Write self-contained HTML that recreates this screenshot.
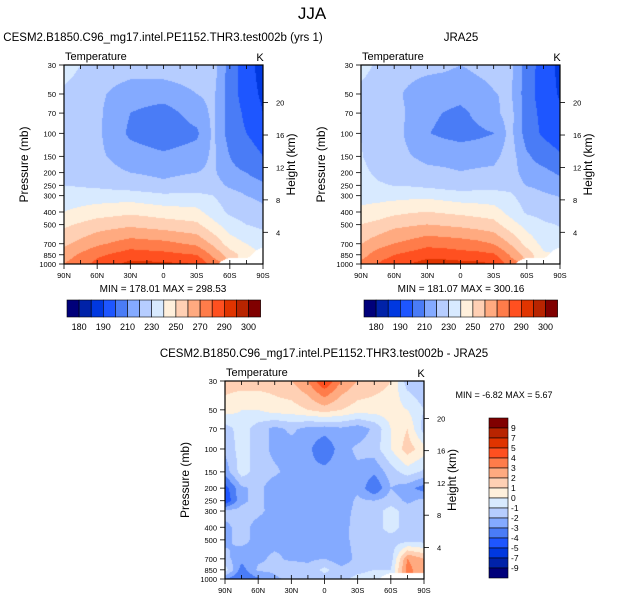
<!DOCTYPE html>
<html><head><meta charset="utf-8"><style>
body{margin:0;width:625px;height:602px;background:#fff;overflow:hidden;font-family:"Liberation Sans",sans-serif;}
#wrap{position:relative;width:625px;height:602px;}
canvas{position:absolute;}
svg{position:absolute;left:0;top:0;}
</style></head><body>
<div id="wrap">
<canvas id="c1" width="199" height="199" style="left:64px;top:65px"></canvas>
<canvas id="c2" width="199" height="199" style="left:361px;top:65px"></canvas>
<canvas id="c3" width="199" height="198" style="left:225px;top:381px"></canvas>
<svg id="s" width="625" height="602"></svg>
</div>
<script>
// ---------- data ----------
const pLevels=[30,50,70,100,150,200,250,300,400,500,700,850,1000];
const modelLats=[90,60,30,0,-30,-45,-60,-75,-90];
const modelT=[
[235,225,225,225,225,225,205,195,185],
[228,222,215,215,220,222,205,195,188],
[228,222,210,205,215,222,205,198,190],
[228,222,208,203,208,222,205,200,195],
[228,222,215,212,215,222,210,205,200],
[228,224,220,218,220,222,212,210,205],
[230,228,225,222,225,225,218,215,212],
[235,235,235,232,232,230,225,220,218],
[240,245,248,245,243,235,228,225,222],
[248,255,258,255,252,243,235,230,228],
[258,268,275,273,268,258,245,240,235],
[265,278,285,283,280,268,255,245,null],
[270,283,293,292,290,275,null,null,null]];
const diffLats=[90,75,60,45,30,15,0,-15,-30,-45,-60,-75,-90];
const diffT=[
[1.5,1.5,1.5,1.5,2,3,5,3,2,1.5,1,-1.5,-2],
[0.5,0,0,0.5,0.5,1,1.5,1,0.5,0.5,0.5,0,-1],
[-1.5,-0.5,-1.5,-2.3,-1.8,-2.3,-2.5,-2.2,-2.6,-1.8,0,1,-1.5],
[-1.8,-0.5,-1.5,-2.3,-2.4,-2.7,-4,-2.4,-1.8,-1.5,0,1.5,0.5],
[-2.6,-0.5,-1.5,-1.8,-2.4,-2.7,-2.6,-2.4,-2.2,-2.8,-1.5,-0.5,-1.2],
[-4.5,-2.2,-1.7,-2.6,-2.6,-3,-2.6,-2.6,-2.2,-4,-2,-2.6,-3.5],
[-5,-2.2,-1.7,-2.6,-2.6,-2.6,-2.6,-2.6,-1.8,-2,-1.5,-2.2,-1.7],
[-1.7,-1.7,-1.8,-2.3,-2.6,-2.6,-2.6,-2.3,-1.8,-1.5,-0.5,-1.5,-1.5],
[-2.2,-1.7,-2.3,-2.6,-2.2,-2.4,-2.6,-2.3,-1.7,-1.5,-0.5,-1.5,-1.5],
[-2.2,-1.7,-2.3,-2.3,-2.2,-2.4,-2.6,-2.3,-1.7,-1.5,-1.5,-1.5,-1.5],
[-1.7,-2.6,-2.2,-1.8,-2.2,-2.2,-2,-2.6,-1.7,-1.5,-1.5,3,2],
[-0.5,-3.5,-1.8,-1.8,-1.2,-1.7,-0.7,-1.7,-1.5,-1,-1,3.5,2],
[-3,-4,-3.2,-2.2,-1.7,-2,-1.5,-1.5,-0.5,0,null,null,null]];
const tLevels=[180,185,190,200,210,220,230,240,250,260,270,280,290,295,300];
const tLabels=["180","190","210","230","250","270","290","300"];
const dLevels=[-9,-7,-5,-4,-3,-2,-1,0,1,2,3,4,5,7,9];
const dLabels=["9","7","5","4","3","2","1","0","-1","-2","-3","-4","-5","-7","-9"];
const colors=["#00007a","#0022a8","#0038e0","#1e56ff","#4a7cf6","#84aaff","#b6cdff","#d8eaff","#fff0dc","#ffd0b4","#ffaa80","#ff7c4a","#ff5020","#e03400","#b82400","#800000"];
const pTicks=[30,50,70,100,150,200,250,300,400,500,700,850,1000];
const hKm=[4,8,12,16,20];
const latTicks=[90,60,30,0,-30,-60,-90];
const latLabels=["90N","60N","30N","0","30S","60S","90S"];

// ---------- helpers ----------
const L0=Math.log(30),L1=Math.log(1000);
function yOfP(p,h){return (Math.log(p)-L0)/(L1-L0)*h;}
function xOfLat(lat,w){return (90-lat)/180*w;}
function interp(lats,grid,lat,p){
  const lp=Math.log(p);
  let i=0;while(i<pLevels.length-2&&Math.log(pLevels[i+1])<lp)i++;
  let j=0;while(j<lats.length-2&&lats[j+1]>lat)j++;
  const ty=(lp-Math.log(pLevels[i]))/(Math.log(pLevels[i+1])-Math.log(pLevels[i]));
  const tx=(lats[j]-lat)/(lats[j]-lats[j+1]);
  const a=grid[i][j],b=grid[i][j+1],c=grid[i+1][j],d=grid[i+1][j+1];
  if(a==null||b==null||c==null||d==null){
    const v=[[a,(1-tx)*(1-ty)],[b,tx*(1-ty)],[c,(1-tx)*ty],[d,tx*ty]];
    let s=0,w=0,miss=0;for(const [val,wt] of v){if(val==null)miss+=wt;else{s+=val*wt;w+=wt;}}
    if(miss>0.35)return null;return s/w;
  }
  return (1-tx)*(1-ty)*a+tx*(1-ty)*b+(1-tx)*ty*c+tx*ty*d;
}
function colIdx(v,levels){let k=0;while(k<levels.length&&v>=levels[k])k++;return k;}
function fill(id,fn,levels){
  const cv=document.getElementById(id),ctx=cv.getContext('2d'),w=cv.width,h=cv.height;
  const img=ctx.createImageData(w,h);
  for(let y=0;y<h;y++){const p=Math.exp(L0+(y+0.5)/h*(L1-L0));
    for(let x=0;x<w;x++){const lat=90-(x+0.5)/w*180;const v=fn(lat,p);
      let r=255,g=255,b=255;
      if(v!=null){const c=colors[colIdx(v,levels)];r=parseInt(c.substr(1,2),16);g=parseInt(c.substr(3,2),16);b=parseInt(c.substr(5,2),16);}
      const o=(y*w+x)*4;img.data[o]=r;img.data[o+1]=g;img.data[o+2]=b;img.data[o+3]=255;}}
  ctx.putImageData(img,0,0);
}
const modelF=(lat,p)=>interp(modelLats,modelT,lat,p);
const diffF=(lat,p)=>interp(diffLats,diffT,lat,p);
const jraF=(lat,p)=>{const m=modelF(lat,p),d=diffF(lat,p);if(m==null)return null;return m-(d==null?0:d);};
fill('c1',modelF,tLevels);fill('c2',jraF,tLevels);fill('c3',diffF,dLevels);

// ---------- svg ----------
const S=document.getElementById('s');const NS='http://www.w3.org/2000/svg';
function el(tag,attrs,txt){const e=document.createElementNS(NS,tag);for(const k in attrs)e.setAttribute(k,attrs[k]);if(txt!=null)e.textContent=txt;S.appendChild(e);return e;}
function text(x,y,t,size,anchor,name,rot){const e=el('text',{x:x,y:y,'font-size':size,'text-anchor':anchor||'middle','font-family':'Liberation Sans, sans-serif',fill:'#000'},t);
  if(rot)e.setAttribute('transform','rotate(-90 '+x+' '+y+')');
  
  return e;}
function hY(km,h){return yOfP(1013*Math.exp(-km/7),h);}
function panel(x0,y0,w,h,pfx){
  const fr=el('rect',{x:x0,y:y0,width:w,height:h,fill:'none',stroke:'#000','stroke-width':1.2});
  
  
  pTicks.forEach(p=>{const y=y0+yOfP(p,h);
    el('line',{x1:x0-5,x2:x0,y1:y,y2:y,stroke:'#000','stroke-width':0.8});
    text(x0-8,y+3,String(p),7.5,'end',pfx+'-y-tick-label');});
  hKm.forEach(k=>{const y=y0+hY(k,h);
    el('line',{x1:x0+w,x2:x0+w+5,y1:y,y2:y,stroke:'#000','stroke-width':0.8});
    text(x0+w+13,y+3,String(k),7.5,'start',pfx+'-right-tick-label');});
  for(let lat=90;lat>=-90;lat-=15){const x=x0+xOfLat(lat,w);
    el('line',{x1:x,x2:x,y1:y0+h,y2:y0+h-4,stroke:'#000','stroke-width':0.8});
    el('line',{x1:x,x2:x,y1:y0,y2:y0+4,stroke:'#000','stroke-width':0.8});}
  latTicks.forEach((lat,i)=>{const x=x0+xOfLat(lat,w);
    el('line',{x1:x,x2:x,y1:y0+h,y2:y0+h+5,stroke:'#000','stroke-width':0.8});
    text(x,y0+h+14,latLabels[i],7.5,'middle',pfx+'-x-tick-label');});
  text(x0+1,y0-5,'Temperature',11,'start',pfx+'-variable-label');
  text(x0+w-3,y0-4,'K',11,'middle',pfx+'-units-label');
  text(x0-36,y0+h/2,'Pressure (mb)',12,'middle',pfx+'-y-axis-title',true);
  text(x0+w+32,y0+h/2,'Height (km)',12,'middle',pfx+'-right-axis-title',true);
}
panel(64,65,199,199,'model');panel(361,65,199,199,'jra25');panel(225,381,199,198,'diff');
text(312,19,'JJA',17,'middle','figure-title');
text(163,41,'CESM2.B1850.C96_mg17.intel.PE1152.THR3.test002b (yrs 1)',11.5,'middle','model-title');
text(461,41,'JRA25',11.5,'middle','jra25-title');
text(324,357,'CESM2.B1850.C96_mg17.intel.PE1152.THR3.test002b - JRA25',11.5,'middle','diff-title');
text(163,292,'MIN = 178.01   MAX = 298.53',10,'middle','model-minmax');
text(461,292,'MIN = 181.07   MAX = 300.16',10,'middle','jra25-minmax');
text(504,398,'MIN =  -6.82  MAX =   5.67',9,'middle','diff-minmax');
function hbar(x0,y0,pfx){const bw=12.1,bh=17;
  colors.forEach((c,i)=>{const r=el('rect',{x:x0+i*bw,y:y0,width:bw,height:bh,fill:c,stroke:'#000','stroke-width':0.6});
    
    });
  tLabels.forEach((t,i)=>text(x0+(2*i+1)*bw,y0+bh+13,t,9,'middle',pfx+'-colorbar-label'));}
hbar(67,300,'model');hbar(364,300,'jra25');
colors.slice().reverse().forEach((c,i)=>{const r=el('rect',{x:489,y:418+i*10,width:19,height:10,fill:c,stroke:'#000','stroke-width':0.6});
  
  });
dLabels.forEach((t,i)=>text(511,418+(i+1)*10+3,t,8.5,'start','diff-colorbar-label'));
</script>
</body></html>
